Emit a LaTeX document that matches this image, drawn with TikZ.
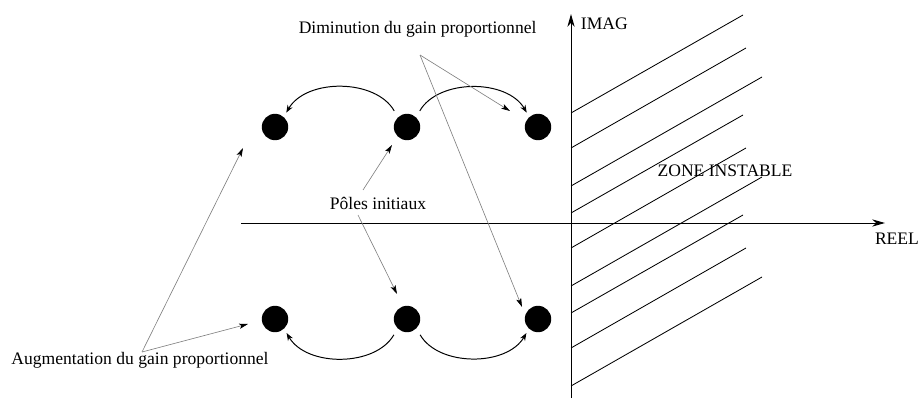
\documentclass[tikz,border=0pt]{standalone}
\usepackage{fontspec}
\setmainfont{Liberation Serif}
\usetikzlibrary{arrows.meta}

\begin{document}
\begin{tikzpicture}[
  font=\fontsize{12.5}{15}\selectfont,
  pole/.style={circle, fill=black, inner sep=0pt, minimum size=0.66cm},
  axis/.style={line width=0.7pt, -{Stealth[length=3.2mm, width=1.8mm, inset=1mm]}},
  hatch/.style={line width=0.6pt},
  move/.style={line width=0.7pt, shorten <=1.8mm, shorten >=1.2mm,
    -{Stealth[length=1.9mm, width=1.4mm]}},
  callout/.style={gray, line width=0.45pt,
    -{Stealth[length=2.2mm, width=1.3mm, inset=0.5mm, color=black]}}]
  \useasboundingbox (0,0) rectangle (23,9.95);

  % Axes
  \coordinate (reel from) at (6.025,4.375);
  \coordinate (reel to) at (22.125,4.375);
  \coordinate (imag from) at (14.275,0);
  \coordinate (imag to) at (14.275,9.6);
  \draw[axis] (reel from) -- (reel to);
  \draw[axis] (imag from) -- (imag to);
  \node[anchor=west] (imag) at (14.40,9.35) {IMAG};
  \node[anchor=east, inner sep=0pt] (reel) at (22.98,3.975) {REEL};

  % Unstable zone
  \foreach \s in {0,2.5,5}{
    \draw[hatch] (14.275,7.125-\s) -- (18.575,9.575-\s);
    \draw[hatch] (14.275,6.25-\s) -- (18.65,8.75-\s);
    \draw[hatch] (14.275,5.3-\s) -- (19.05,8.025-\s);
  }
  \node (zone) at (18.125,5.675) {ZONE INSTABLE};

  % Poles
  \node[pole] (p1) at (6.875,6.775) {};
  \node[pole] (p2) at (10.175,6.775) {};
  \node[pole] (p3) at (13.45,6.775) {};
  \node[pole] (q1) at (6.875,1.975) {};
  \node[pole] (q2) at (10.175,1.975) {};
  \node[pole] (q3) at (13.45,1.975) {};

  % Pole moves
  \draw[move] (p2.133) to[bend right=60] (p1.49);
  \draw[move] (p2.47) to[bend left=60] (p3.131);
  \draw[move] (q2.225) to[bend left=60] (q1.313);
  \draw[move] (q2.315) to[bend right=60] (q3.227);

  % Labels
  \node (dim) at (10.44,9.225) {Diminution du gain proportionnel};
  \node (ini) at (9.45,4.875) {Pôles initiaux};
  \node (aug) at (3.5,0.95) {Augmentation du gain proportionnel};
  \coordinate (dim foot) at (10.5,8.575);
  \coordinate (ini top) at (9.075,5.2);
  \coordinate (ini bot) at (8.95,4.575);
  \coordinate (aug foot) at (3.55,1.15);

  \draw[callout] (dim foot) -- ([shift={(-0.7,0.4)}]p3.center);
  \draw[callout] (dim foot) -- ([shift={(-0.4,0.3)}]q3.center);
  \draw[callout] (ini top) -- ([shift={(-0.375,-0.45)}]p2.center);
  \draw[callout] (ini bot) -- ([shift={(-0.25,0.625)}]q2.center);
  \draw[callout] (aug foot) -- ([shift={(-0.8,-0.525)}]p1.center);
  \draw[callout] (aug foot) -- ([shift={(-0.675,-0.125)}]q1.center);
\end{tikzpicture}
\end{document}
